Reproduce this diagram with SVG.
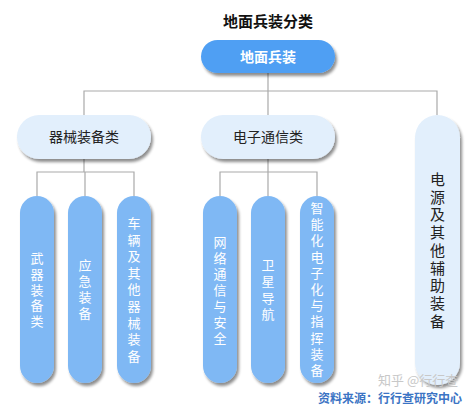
<svg xmlns="http://www.w3.org/2000/svg" width="474" height="407" viewBox="0 0 474 407">
<defs>
<filter id="sh" x="-30%" y="-30%" width="160%" height="160%">
<feGaussianBlur in="SourceAlpha" stdDeviation="1.8"/>
<feOffset dx="2" dy="3" result="b"/>
<feComponentTransfer><feFuncA type="linear" slope="0.45"/></feComponentTransfer>
<feMerge><feMergeNode/><feMergeNode in="SourceGraphic"/></feMerge>
</filter>
<style>
text{font-family:"Noto Sans CJK SC","Noto Sans",sans-serif;}
.title{font-size:15px;font-weight:bold;fill:#111;text-anchor:middle;}
.top{fill:#4f9ff3;filter:url(#sh);}
.topt{font-size:14px;font-weight:bold;fill:#fff;text-anchor:middle;}
.l2{fill:#e2effc;filter:url(#sh);}
.l2t{font-size:14px;fill:#222;text-anchor:middle;}
.l3{fill:#7fb8f4;filter:url(#sh);}
.l3t{font-size:13px;fill:#fff;text-anchor:middle;}
.vt{font-size:15px;fill:#222;text-anchor:middle;}
.conn{stroke:#aaa;stroke-width:1.2;fill:none;}
.src{font-size:12px;font-weight:bold;fill:#3b74c4;}
.wm{font-size:13px;fill:#c8c8c8;}
</style>
</defs>
<rect width="474" height="407" fill="#fff"/>
<text class="title" x="268" y="27">地面兵装分类</text>
<g id="connectors" class="conn">
<path d="M268 73V91M84 115V91H437V115M268 91V115"/>
<path d="M84 159V172M37 196V172H134V196M85 172V196"/>
<path d="M268 159V172M220 196V172H317V196M268 172V196"/>
</g>
<g id="n-root"><rect class="top" x="201" y="40" width="134" height="33" rx="16.5"/><text class="topt" x="268" y="62">地面兵装</text></g>
<g id="n-qixie"><rect class="l2" x="17" y="115" width="134" height="44" rx="22"/><text class="l2t" x="84" y="142">器械装备类</text></g>
<g id="n-dianzi"><rect class="l2" x="201" y="115" width="134" height="44" rx="22"/><text class="l2t" x="268" y="142">电子通信类</text></g>
<g id="n-dianyuan"><rect class="l2" x="415" y="115" width="45" height="270" rx="22.5"/>
<text class="vt" x="437.5"><tspan x="437.5" y="185">电</tspan><tspan x="437.5" dy="17.7">源</tspan><tspan x="437.5" dy="17.7">及</tspan><tspan x="437.5" dy="17.7">其</tspan><tspan x="437.5" dy="17.7">他</tspan><tspan x="437.5" dy="17.7">辅</tspan><tspan x="437.5" dy="17.7">助</tspan><tspan x="437.5" dy="17.7">装</tspan><tspan x="437.5" dy="17.7">备</tspan></text></g>
<g id="n-wuqi"><rect class="l3" x="20" y="196" width="34" height="187" rx="17"/>
<text class="l3t"><tspan x="37" y="263">武</tspan><tspan x="37" dy="15.8">器</tspan><tspan x="37" dy="15.8">装</tspan><tspan x="37" dy="15.8">备</tspan><tspan x="37" dy="15.8">类</tspan></text></g>
<g id="n-yingji"><rect class="l3" x="68" y="196" width="34" height="187" rx="17"/>
<text class="l3t"><tspan x="85" y="270">应</tspan><tspan x="85" dy="16">急</tspan><tspan x="85" dy="16">装</tspan><tspan x="85" dy="16">备</tspan></text></g>
<g id="n-cheliang"><rect class="l3" x="117" y="196" width="34" height="187" rx="17"/>
<text class="l3t"><tspan x="134" y="228">车</tspan><tspan x="134" dy="16.6">辆</tspan><tspan x="134" dy="16.6">及</tspan><tspan x="134" dy="16.6">其</tspan><tspan x="134" dy="16.6">他</tspan><tspan x="134" dy="16.6">器</tspan><tspan x="134" dy="16.6">械</tspan><tspan x="134" dy="16.6">装</tspan><tspan x="134" dy="16.6">备</tspan></text></g>
<g id="n-wangluo"><rect class="l3" x="203" y="196" width="34" height="187" rx="17"/>
<text class="l3t"><tspan x="220" y="247">网</tspan><tspan x="220" dy="16">络</tspan><tspan x="220" dy="16">通</tspan><tspan x="220" dy="16">信</tspan><tspan x="220" dy="16">与</tspan><tspan x="220" dy="16">安</tspan><tspan x="220" dy="16">全</tspan></text></g>
<g id="n-weixing"><rect class="l3" x="251" y="196" width="34" height="187" rx="17"/>
<text class="l3t"><tspan x="268" y="270">卫</tspan><tspan x="268" dy="16.3">星</tspan><tspan x="268" dy="16.3">导</tspan><tspan x="268" dy="16.3">航</tspan></text></g>
<g id="n-zhineng"><rect class="l3" x="300" y="196" width="34" height="187" rx="17"/>
<text class="l3t"><tspan x="317" y="213">智</tspan><tspan x="317" dy="16.2">能</tspan><tspan x="317" dy="16.2">化</tspan><tspan x="317" dy="16.2">电</tspan><tspan x="317" dy="16.2">子</tspan><tspan x="317" dy="16.2">化</tspan><tspan x="317" dy="16.2">与</tspan><tspan x="317" dy="16.2">指</tspan><tspan x="317" dy="16.2">挥</tspan><tspan x="317" dy="16.2">装</tspan><tspan x="317" dy="16.2">备</tspan></text></g>
<text class="wm" x="378" y="385">知乎 @行行查</text>
<text class="src" x="318" y="403">资料来源：行行查研究中心</text>
</svg>
